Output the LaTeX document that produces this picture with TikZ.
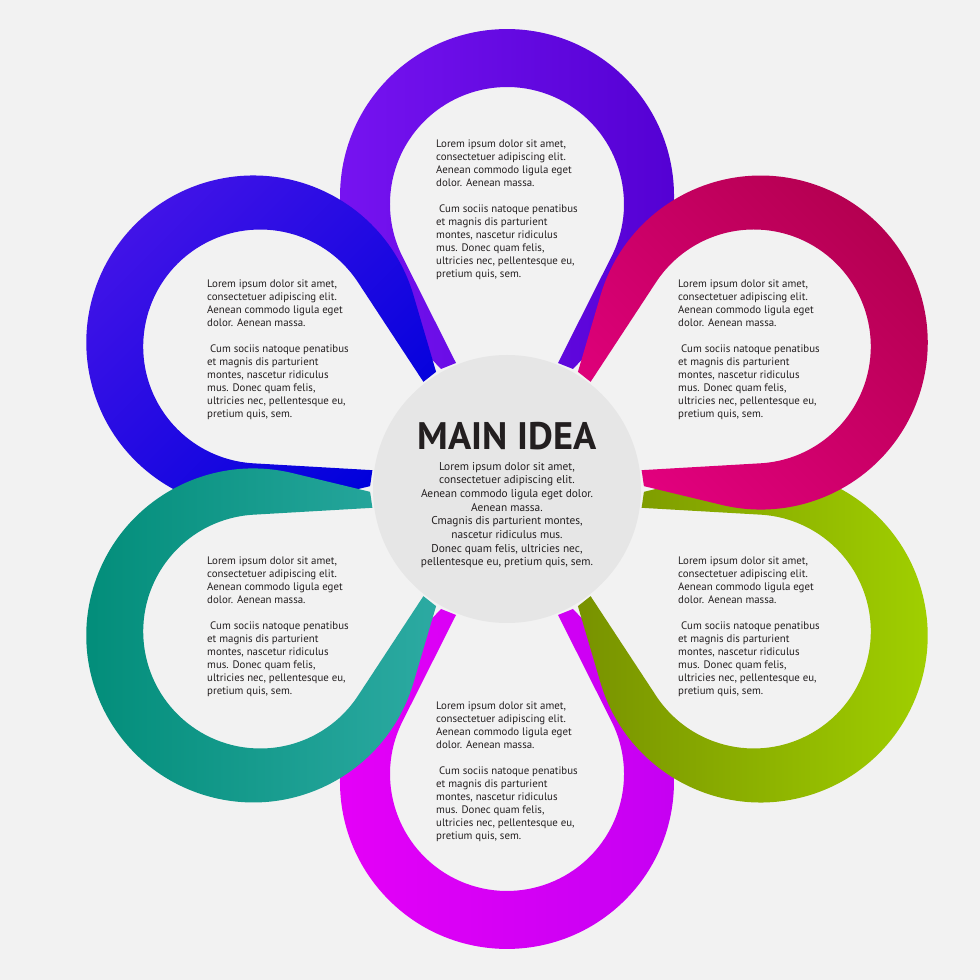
\documentclass[tikz,border=0pt]{standalone}
\usepackage{fontspec}
\setmainfont{PT Sans}
\usetikzlibrary{positioning}
\definecolor{bggray}{HTML}{F2F2F2}
\definecolor{hubgray}{HTML}{E6E6E6}
\definecolor{inkgray}{HTML}{231F20}
\definecolor{violetL}{HTML}{7814F2}
\definecolor{violetR}{HTML}{5200D2}
\definecolor{crimsonL}{HTML}{E2007E}
\definecolor{crimsonR}{HTML}{B2004E}
\definecolor{oliveL}{HTML}{789200}
\definecolor{oliveR}{HTML}{A2D200}
\definecolor{magentaL}{HTML}{E600F8}
\definecolor{magentaR}{HTML}{C400F2}
\definecolor{tealL}{HTML}{008C78}
\definecolor{tealR}{HTML}{2CAAA2}
\definecolor{blueL}{HTML}{4414E8}
\definecolor{blueR}{HTML}{0000DC}
\newcommand{\petalcopy}{Lorem ipsum dolor sit amet,\\consectetuer adipiscing elit.\\
  Aenean commodo ligula eget\\dolor. Aenean massa.\\[13bp]
  \hspace*{3bp}Cum sociis natoque penatibus\\et magnis dis parturient\\
  montes, nascetur ridiculus\\mus. Donec quam felis,\\
  ultricies nec, pellentesque eu,\\pretium quis, sem.}

\begin{document}
\begin{tikzpicture}[x=1bp,y=1bp,
  petaltext/.style={anchor=north west,inner sep=0pt,align=left,text=inkgray,
    font=\fontsize{10.9}{13}\selectfont},
  hub/.style={circle,fill=hubgray,minimum size=268bp,inner sep=0pt},
  hubtitle/.style={inner sep=0pt,text=inkgray,font=\fontsize{38.5}{38.5}\selectfont\bfseries},
  hubtext/.style={anchor=north,inner sep=0pt,align=center,text=inkgray,
    font=\fontsize{11.4}{13.7}\selectfont}
]
  \fill[bggray] (0,0) rectangle (980,980);
  \coordinate (hubc) at (507,491);

  % Petals, back to front
  \foreach \rot/\cl/\cr/\ang in {0/violetL/violetR/90, 180/magentaL/magentaR/90,
      -120/oliveL/oliveR/90, 60/blueL/blueR/45, -60/crimsonL/crimsonR/135,
      120/tealL/tealR/90}{
    \shade[shift={(hubc)},rotate=\rot,left color=\cl,right color=\cr,shading angle=\ang]
      (-66,120) -- (-121.1,178) arc[start angle=223.5,end angle=-43.5,radius=167]
      -- (66,120) -- (51,126) -- (104.5,232.4)
      arc[start angle=-26.7,end angle=206.7,radius=117] -- (-51,126) -- cycle;
  }

  % Hub
  \node[hub] (hub) at (hubc) {};
  \node[hubtitle] (title) at (507,544) {MAIN IDEA};
  \node[hubtext] (hubbody) at (507,518) {Lorem ipsum dolor sit amet,\\
    consectetuer adipiscing elit.\\Aenean commodo ligula eget dolor.\\
    Aenean massa.\\Cmagnis dis parturient montes,\\nascetur ridiculus mus.\\
    Donec quam felis, ultricies nec,\\pellentesque eu, pretium quis, sem.};

  % Petal texts
  \node[petaltext] (ttop) at (436,840) {\petalcopy};
  \node[petaltext] (tupright) at (678,700) {\petalcopy};
  \node[petaltext] (tupleft) at (207,700) {\petalcopy};
  \node[petaltext] (tlowleft) at (207,423) {\petalcopy};
  \node[petaltext] (tlowright) at (678,423) {\petalcopy};
  \node[petaltext] (tbottom) at (436,278) {\petalcopy};
\end{tikzpicture}
\end{document}
